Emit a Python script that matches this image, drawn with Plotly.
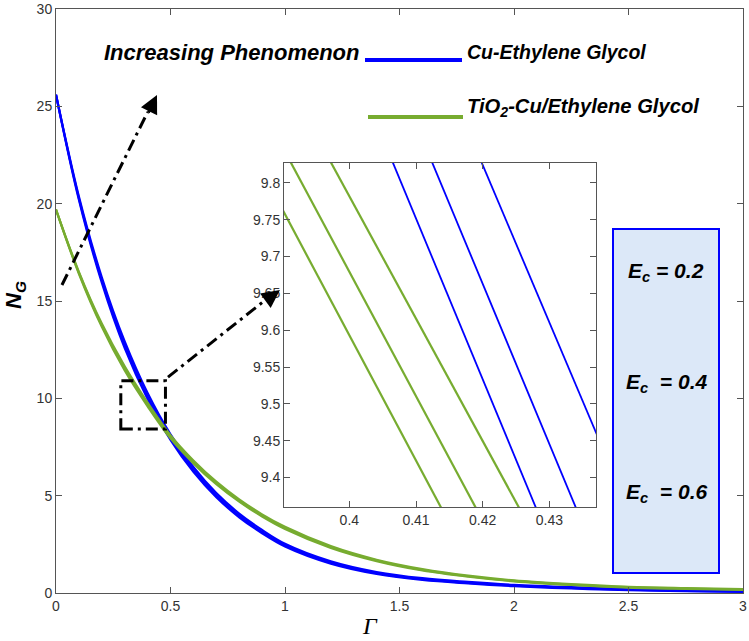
import plotly.graph_objects as go

# ---------------- data ----------------
gamma = [0, 0.1, 0.2, 0.3, 0.4, 0.5, 0.6, 0.7, 0.8, 0.9, 1.0, 1.2, 1.4, 1.6, 1.8, 2.0, 2.25, 2.5, 2.75, 3.0]

cu_ec02 = [25.6, 20.20, 15.94, 12.58, 9.96, 7.86, 6.22, 4.92, 3.89, 3.07, 2.39, 1.51, 0.98, 0.67, 0.49, 0.35, 0.23, 0.15, 0.09, 0.06]
cu_ec04 = [25.6, 20.28, 16.07, 12.73, 10.09, 7.99, 6.33, 5.01, 3.97, 3.14, 2.45, 1.56, 1.02, 0.71, 0.52, 0.38, 0.26, 0.17, 0.11, 0.075]
cu_ec06 = [25.6, 20.37, 16.22, 12.92, 10.27, 8.15, 6.47, 5.13, 4.08, 3.24, 2.53, 1.63, 1.08, 0.76, 0.57, 0.42, 0.30, 0.21, 0.14, 0.10]

ti_ec02 = [19.7, 16.40, 13.67, 11.43, 9.59, 7.94, 6.66, 5.59, 4.69, 3.93, 3.29, 2.32, 1.64, 1.16, 0.84, 0.60, 0.41, 0.28, 0.21, 0.16]
ti_ec04 = [19.7, 16.45, 13.75, 11.53, 9.68, 8.02, 6.73, 5.65, 4.74, 3.98, 3.34, 2.36, 1.67, 1.19, 0.86, 0.62, 0.43, 0.30, 0.23, 0.18]
ti_ec06 = [19.7, 16.50, 13.84, 11.64, 9.78, 8.11, 6.81, 5.72, 4.81, 4.04, 3.40, 2.41, 1.71, 1.23, 0.89, 0.65, 0.46, 0.32, 0.25, 0.20]

# inset (zoomed) segments: y levels and the Γ where each curve meets them
inset_y = [9.85, 9.35]
inset_cu = {"0.2": [0.4055, 0.4284], "0.4": [0.4114, 0.4344], "0.6": [0.4188, 0.4422]}
inset_ti = {"0.2": [0.3849, 0.4143], "0.4": [0.3899, 0.4195], "0.6": [0.3959, 0.4260]}

main_xticks = [0, 0.5, 1, 1.5, 2, 2.5, 3]
main_xticktext = ["0", "0.5", "1", "1.5", "2", "2.5", "3"]
main_yticks = [0, 5, 10, 15, 20, 25, 30]
inset_xticks = [0.4, 0.41, 0.42, 0.43]
inset_yticks = [9.4, 9.45, 9.5, 9.55, 9.6, 9.65, 9.7, 9.75, 9.8]
inset_yticktext = ["9.4", "9.45", "9.5", "9.55", "9.6", "9.65", "9.7", "9.75", "9.8"]
ec_labels = ["0.2", "0.4", "0.6"]

BLUE = "#0000ff"
GREEN = "#77ac30"
AX = "#555555"
FONT = "Liberation Sans, Arial, sans-serif"

fig = go.Figure()

for ys in (cu_ec02, cu_ec04, cu_ec06):
    fig.add_trace(go.Scatter(x=gamma, y=ys, mode="lines", line=dict(color=BLUE, width=2.2, shape="spline"),
                             showlegend=False, xaxis="x", yaxis="y", hoverinfo="skip"))
for ys in (ti_ec02, ti_ec04, ti_ec06):
    fig.add_trace(go.Scatter(x=gamma, y=ys, mode="lines", line=dict(color=GREEN, width=2.2, shape="spline"),
                             showlegend=False, xaxis="x", yaxis="y", hoverinfo="skip"))

for k in ec_labels:
    fig.add_trace(go.Scatter(x=inset_ti[k], y=inset_y, mode="lines", line=dict(color=GREEN, width=2.2),
                             showlegend=False, xaxis="x2", yaxis="y2", hoverinfo="skip"))
for k in ec_labels:
    fig.add_trace(go.Scatter(x=inset_cu[k], y=inset_y, mode="lines", line=dict(color=BLUE, width=1.8),
                             showlegend=False, xaxis="x2", yaxis="y2", hoverinfo="skip"))

# ---------------- layout geometry ----------------
W, H = 749, 641
ML, MR, MT, MB = 56, 6, 9, 48
PW, PH = W - ML - MR, H - MT - MB


def px(x):
    return (x - ML) / PW


def py(y):
    return (H - MB - y) / PH


tickfont = dict(family=FONT, size=14, color="#333333")
axis_common = dict(showline=True, linecolor=AX, linewidth=1, mirror="ticks", ticks="inside",
                   ticklen=6, tickcolor=AX, showgrid=False, zeroline=False, tickfont=tickfont,
                   automargin=False)

fig.update_layout(
    width=W, height=H,
    margin=dict(l=ML, r=MR, t=MT, b=MB, autoexpand=False),
    paper_bgcolor="white", plot_bgcolor="white",
    xaxis=dict(domain=[0, 1], range=[0, 3], tickvals=main_xticks, ticktext=main_xticktext, **axis_common),
    yaxis=dict(domain=[0, 1], range=[0, 30], tickvals=main_yticks, **axis_common),
    xaxis2=dict(domain=[px(284), px(596)], range=[0.3902, 0.437], anchor="y2", tickvals=inset_xticks,
                **axis_common),
    yaxis2=dict(domain=[py(507), py(163)], range=[9.36, 9.827], anchor="x2", tickvals=inset_yticks,
                ticktext=inset_yticktext, **axis_common),
)

shapes = []
# white background of inset
shapes.append(dict(type="rect", xref="x2 domain", yref="y2 domain", x0=0, x1=1, y0=0, y1=1,
                   fillcolor="white", line=dict(width=0), layer="below"))
# zoom box
DD = "12px,5px,3px,5px"
shapes.append(dict(type="rect", xref="x", yref="y", x0=0.283, x1=0.478, y0=8.42, y1=10.9,
                   line=dict(color="black", width=3, dash=DD), fillcolor="rgba(0,0,0,0)"))
# dash-dot connectors
shapes.append(dict(type="line", xref="x", yref="y", x0=0.489, y0=11.09, x1=0.93, y1=15.2,
                   line=dict(color="black", width=3, dash=DD)))
shapes.append(dict(type="line", xref="x", yref="y", x0=0.026, y0=15.82, x1=0.40, y1=24.7,
                   line=dict(color="black", width=3, dash=DD)))
# legend lines
shapes.append(dict(type="line", xref="paper", yref="paper", x0=px(365), x1=px(462), y0=py(60), y1=py(60),
                   line=dict(color=BLUE, width=4)))
shapes.append(dict(type="line", xref="paper", yref="paper", x0=px(368), x1=px(463), y0=py(117), y1=py(117),
                   line=dict(color=GREEN, width=4)))
# Ec box
shapes.append(dict(type="rect", xref="paper", yref="paper", x0=px(613), x1=px(719), y0=py(573), y1=py(229),
                   fillcolor="#dce8f8", line=dict(color=BLUE, width=2)))
fig.update_layout(shapes=shapes)

ann = []
ann.append(dict(xref="paper", yref="paper", x=px(362), y=py(52), xanchor="right", yanchor="middle",
                text="<b><i>Increasing Phenomenon</i></b>", showarrow=False,
                font=dict(family=FONT, size=22, color="black")))
ann.append(dict(xref="paper", yref="paper", x=px(465), y=py(52), xanchor="left", yanchor="middle",
                text="<b><i>Cu-Ethylene Glycol</i></b>", showarrow=False,
                font=dict(family=FONT, size=19.5, color="black")))
ann.append(dict(xref="paper", yref="paper", x=px(465), y=py(108), xanchor="left", yanchor="middle",
                text="<b><i>TiO<sub>2</sub>-Cu/Ethylene Glycol</i></b>", showarrow=False,
                font=dict(family=FONT, size=20.2, color="black")))
ec_gap = ["", "&nbsp;", "&nbsp;"]
for lab, gap, yc in zip(ec_labels, ec_gap, [272, 383, 493]):
    ann.append(dict(xref="paper", yref="paper", x=px(666), y=py(yc), xanchor="center", yanchor="middle",
                    text="<b><i>E<sub>c</sub>" + gap + " = " + lab + "</i></b>", showarrow=False,
                    font=dict(family=FONT, size=21, color="black")))
# axis titles
ann.append(dict(xref="paper", yref="paper", x=px(15), y=py(295), xanchor="center", yanchor="middle",
                text="<b><i>N<sub>G</sub></i></b>", textangle=-90, showarrow=False,
                font=dict(family=FONT, size=22, color="black")))
ann.append(dict(xref="paper", yref="paper", x=px(370), y=py(626), xanchor="center", yanchor="middle",
                text="<i>Γ</i>", showarrow=False,
                font=dict(family="Liberation Serif, Times New Roman, serif", size=24, color="black")))
# arrow heads
ann.append(dict(xref="x", yref="y", axref="x", ayref="y", x=0.441, y=25.58, ax=0.40, ay=24.6,
                text="", showarrow=True, arrowhead=2, arrowsize=1.2, arrowwidth=3, arrowcolor="black"))
ann.append(dict(xref="x", yref="y", axref="x", ayref="y", x=0.978, y=15.56, ax=0.93, ay=15.15,
                text="", showarrow=True, arrowhead=2, arrowsize=1.2, arrowwidth=3, arrowcolor="black"))
fig.update_layout(annotations=ann)

fig.write_html("out.html", config={"displayModeBar": False},
               post_script="document.body.style.margin='0px';document.body.style.padding='0px';")
